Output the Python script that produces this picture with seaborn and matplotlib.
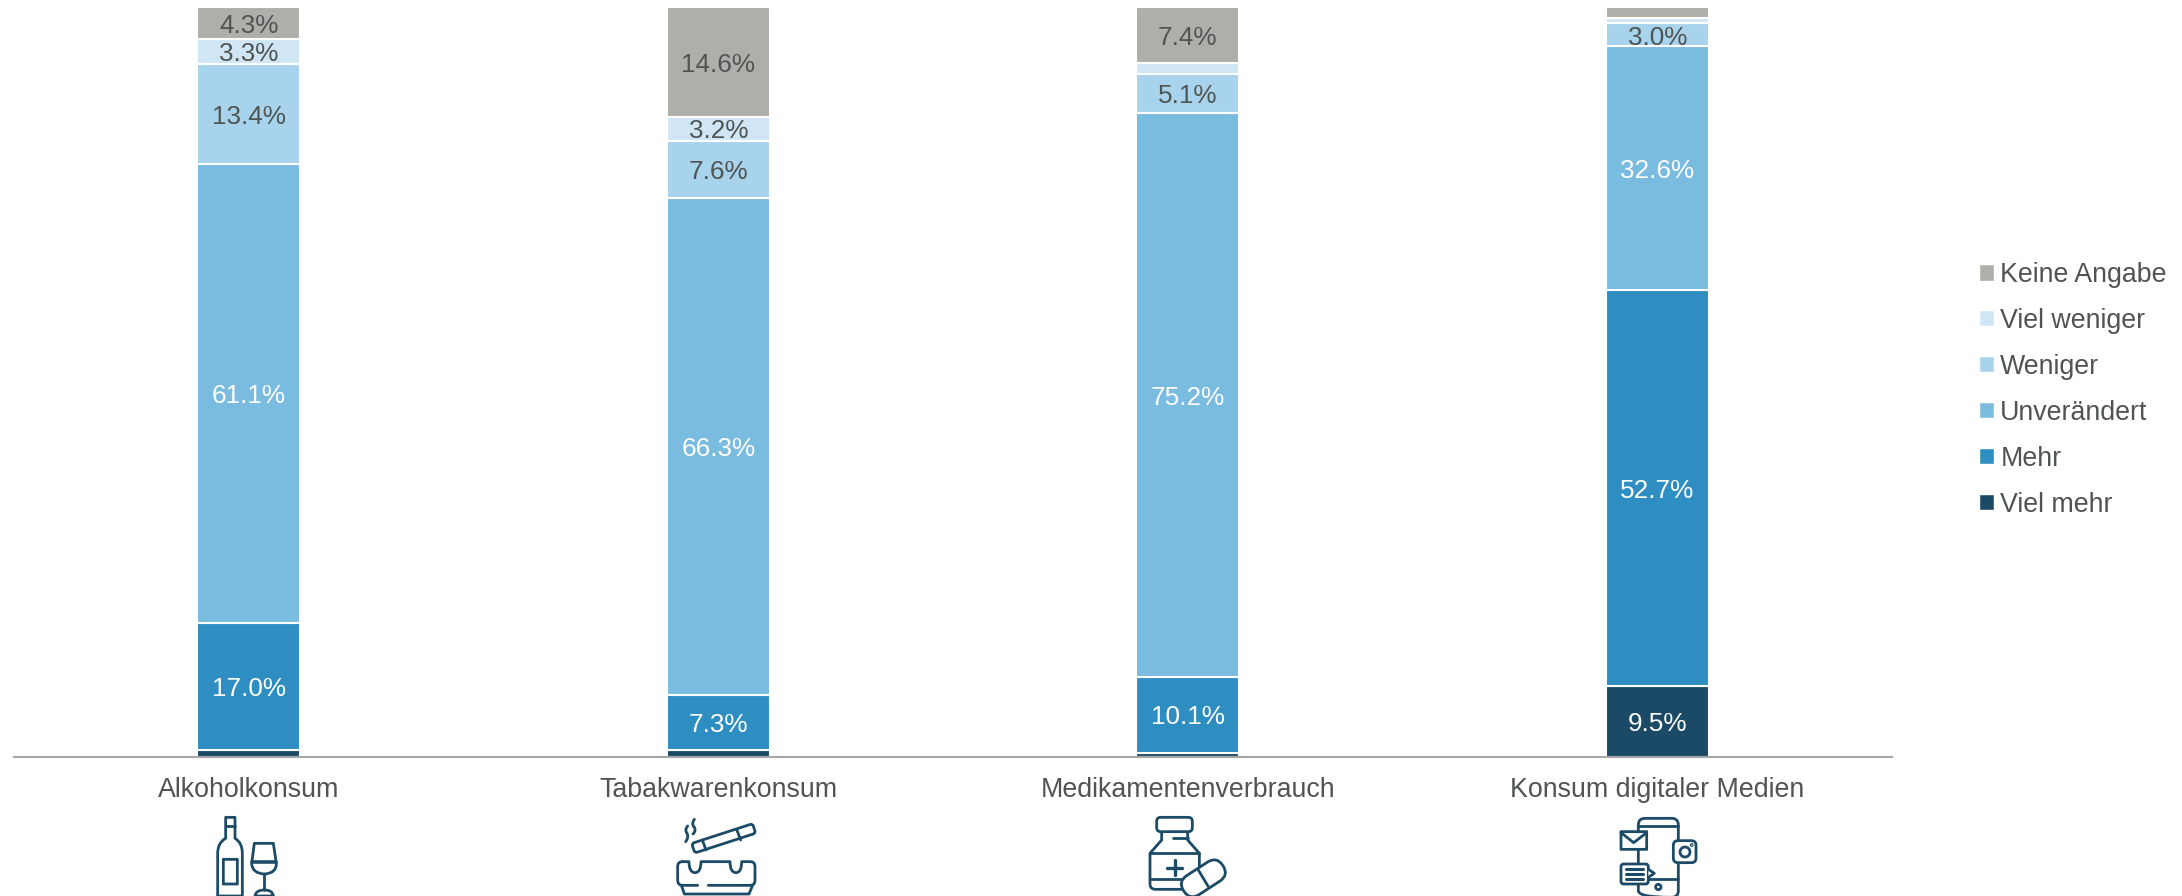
import numpy as np
import matplotlib
matplotlib.use("Agg")
import matplotlib.pyplot as plt
from matplotlib.path import Path
from matplotlib.patches import PathPatch, FancyBboxPatch, Circle, Patch
from matplotlib.transforms import Affine2D
import seaborn as sns

categories = ["Alkoholkonsum", "Tabakwarenkonsum", "Medikamentenverbrauch", "Konsum digitaler Medien"]
viel_mehr = [0.9, 1.0, 0.6, 9.5]
mehr = [17.0, 7.3, 10.1, 52.7]
unveraendert = [61.1, 66.3, 75.2, 32.6]
weniger = [13.4, 7.6, 5.1, 3.0]
viel_weniger = [3.3, 3.2, 1.6, 0.7]
keine_angabe = [4.3, 14.6, 7.4, 1.5]

series_names = ["Viel mehr", "Mehr", "Unverändert", "Weniger", "Viel weniger", "Keine Angabe"]
series_values = [viel_mehr, mehr, unveraendert, weniger, viel_weniger, keine_angabe]
series_colors = ["#1A4A66", "#2E8EC2", "#7ABBE0", "#A8D3EC", "#D0E6F5", "#AEAFAA"]
label_colors = ["white", "white", "white", "#505453", "#505453", "#505453"]

W, H = 2182, 896
TXT = "#505453"
ICON = "#1B4B66"
FS = 18.8
FS_TEXT = 19.25

sns.set_theme(style="white")
plt.rcParams["font.family"] = ["Liberation Sans", "DejaVu Sans"]

fig = plt.figure(figsize=(W / 100, H / 100), dpi=100, facecolor="white")
ax = fig.add_axes([14 / W, (H - 757) / H, (1892 - 14) / W, 750 / H])

bottom = np.zeros(len(categories))
for name, vals, col, lc in zip(series_names, series_values, series_colors, label_colors):
    sns.barplot(x=categories, y=vals, bottom=bottom, color=col, saturation=1, width=0.22,
                edgecolor="white", linewidth=1.5, ax=ax, errorbar=None, order=categories)
    labels = [f"{v:.1f}%" if v >= 3 else "" for v in vals]
    for t in ax.bar_label(ax.containers[-1], labels=labels, label_type="center", color=lc, fontsize=FS):
        t.xyann = (0, -2)
    bottom = bottom + np.array(vals)

ax.set_ylim(0, 100)
ax.set_xlim(-0.5, 3.5)
ax.set_yticks([])
ax.set_xlabel("")
ax.set_ylabel("")
ax.tick_params(axis="x", length=0, pad=14.5, labelsize=FS_TEXT, labelcolor=TXT)
for s in ["top", "left", "right"]:
    ax.spines[s].set_visible(False)
ax.spines["bottom"].set_color("#A6A6A6")
ax.spines["bottom"].set_linewidth(1.5)
ax.spines["bottom"].set_zorder(5)

handles = [Patch(facecolor=c, edgecolor="white", linewidth=0.3, label=n)
           for n, c in zip(series_names[::-1], series_colors[::-1])]
fig.legend(handles=handles, loc="center left", bbox_to_anchor=(1980 / W, (H - 390) / H),
           frameon=False, fontsize=FS_TEXT, labelcolor=TXT, borderpad=0, borderaxespad=0,
           handlelength=0.52, handleheight=0.52, handletextpad=0.24, labelspacing=0.745)

# ---- decorative icons, in pixel space ----
ov = fig.add_axes([0, 0, 1, 1], facecolor="none", zorder=10)
ov.set_xlim(0, W)
ov.set_ylim(H, 0)
ov.axis("off")
LW = 2.0


def P(o, pts, closed=False, fc="none", lw=LW):
    """pts in 3x crop coordinates; 2-tuples are lines, 4-tuples quadratic curves."""
    verts, codes = [], []
    for i, p in enumerate(pts):
        if len(p) == 2:
            verts.append(p)
            codes.append(Path.MOVETO if i == 0 else Path.LINETO)
        else:
            verts += [p[:2], p[2:]]
            codes += [Path.CURVE3, Path.CURVE3]
    if closed:
        verts.append(verts[0])
        codes.append(Path.CLOSEPOLY)
    v = np.array(verts, float) / 3 + np.array(o)
    ov.add_patch(PathPatch(Path(v, codes), fc=fc, ec=ICON, lw=lw, capstyle="round", joinstyle="round"))


def R(o, x0, y0, x1, y1, r=0, fc="none", angle=0, lw=LW):
    ox, oy = o
    X0, Y0, X1, Y1 = ox + x0 / 3, oy + y0 / 3, ox + x1 / 3, oy + y1 / 3
    b = FancyBboxPatch((X0 + r / 3, Y0 + r / 3), X1 - X0 - 2 * r / 3, Y1 - Y0 - 2 * r / 3,
                       boxstyle=f"round,pad={r / 3},rounding_size={max(r, 0.01) / 3}",
                       fc=fc, ec=ICON, lw=lw)
    if angle:
        t = Affine2D().rotate_deg_around((X0 + X1) / 2, (Y0 + Y1) / 2, angle)
        b.set_transform(t + ov.transData)
    ov.add_patch(b)


def C(o, x, y, r, fc="none", lw=LW):
    ov.add_patch(Circle((o[0] + x / 3, o[1] + y / 3), r / 3, fc=fc, ec=ICON, lw=lw))


# bottle and glass
o = (205, 810)
P(o, [(62, 22), (90, 22), (90, 85), (112, 98, 112, 130), (112, 258), (38, 258), (38, 130), (38, 98, 62, 85)], True)
P(o, [(62, 47), (90, 47)])
R(o, 55, 148, 97, 222)
P(o, [(148, 100), (205, 100), (214, 160), (215, 190, 178, 192), (141, 190, 140, 160)], True)
P(o, [(141, 156), (213, 156)], lw=2.6)
P(o, [(178, 192), (178, 240)])
P(o, [(150, 258), (152, 240, 178, 240), (203, 240, 205, 258)], True)

# cigarette and ashtray
o = (675, 810)
P(o, [(38, 48), (28, 60, 36, 70), (42, 82, 32, 95)])
P(o, [(58, 28), (48, 42, 58, 52), (64, 62, 54, 72)])
R(o, 50, 70, 242, 100, r=8, angle=-18)
P(o, [(82, 90), (93, 120)])
P(o, [(185, 58), (197, 90)])
P(o, [(22, 155), (42, 155), (42, 188, 60, 188), (78, 188, 78, 155), (165, 155), (165, 188, 183, 188),
      (200, 188, 200, 155), (226, 155), (240, 155, 240, 170), (240, 210), (240, 226, 226, 226), (100, 226)])
P(o, [(85, 226), (85, 226)])
P(o, [(68, 226), (22, 226), (8, 226, 8, 210), (8, 170), (8, 155, 22, 155)])
P(o, [(20, 228), (28, 252), (222, 252), (232, 228)])

# medicine bottle and capsule
o = (1145, 810)
R(o, 35, 22, 142, 65, r=12)
P(o, [(50, 68), (50, 90), (15, 130), (15, 222), (15, 238, 32, 238), (118, 238)])
P(o, [(128, 68), (128, 90), (163, 130), (163, 168)])
P(o, [(15, 128), (163, 128)])
P(o, [(15, 208), (112, 208)])
P(o, [(66, 173), (112, 173)], lw=2.4)
P(o, [(89, 150), (89, 196)], lw=2.4)
P(o, [(65, 85), (65, 85)])
P(o, [(84, 85), (128, 85)])
R(o, 105, 171, 245, 239, r=33, fc="white", angle=-33)
P(o, [(160, 180), (190, 230)])

# phone and apps
o = (1615, 810)
R(o, 70, 25, 190, 262, r=20)
P(o, [(70, 48), (190, 48)])
P(o, [(70, 208), (190, 208)])
C(o, 130, 231, 8)
R(o, 18, 65, 95, 118, fc="white")
P(o, [(18, 68), (56, 98), (95, 68)])
R(o, 18, 162, 100, 222, r=8, fc="white")
P(o, [(100, 178), (118, 190), (100, 202)], fc="white")
for yy in (178, 193, 208):
    P(o, [(32, yy), (85, yy)], lw=2.2)
R(o, 175, 92, 243, 158, r=14, fc="white")
C(o, 210, 126, 15)
C(o, 230, 105, 1.5, fc=ICON)

fig.savefig("out.png", dpi=100)
